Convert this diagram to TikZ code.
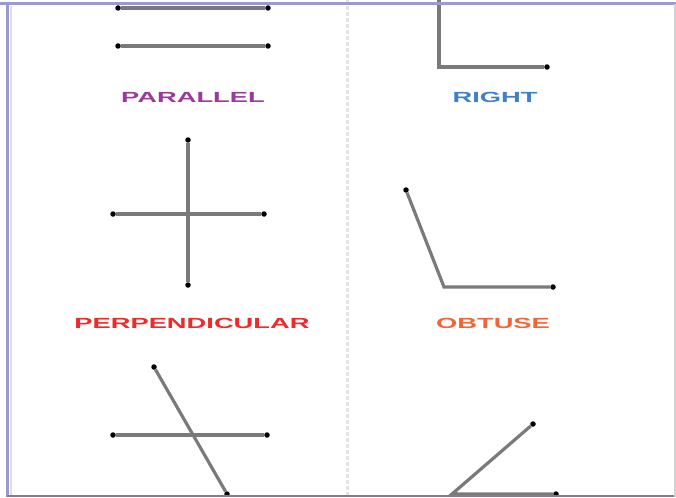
\documentclass[tikz,border=0pt]{standalone}
\usepackage{fontspec}
\setmainfont{Liberation Sans}
\usepackage{graphicx}
\usepackage{xcolor}
\usepackage{tikz}
\definecolor{frameblue}{HTML}{9A9ACF}
\definecolor{parcol}{HTML}{9B3A9E}
\definecolor{rightcol}{HTML}{3F80C8}
\definecolor{perpcol}{HTML}{EE2B2B}
\definecolor{obtcol}{HTML}{F2643A}
\definecolor{segcol}{HTML}{7A7A7A}
\newcommand\widetag[1]{\scalebox{1.95}[1.05]{#1}}

\begin{document}
\begin{tikzpicture}[x=1pt,y=-1pt,
    seg/.style={draw=segcol,line width=3.2pt},
    dot/.style={circle,fill=black,inner sep=0pt,minimum size=5.5pt},
    tag/.style={font=\bfseries\fontsize{14}{14}\selectfont,inner sep=0pt}]
  \clip (0,0) rectangle (676,497);
  \fill[white] (0,0) rectangle (676,497);

  % divider
  \draw[gray!22,line width=3pt,dash pattern=on 4pt off 2pt] (347,0) -- (347,497);

  % parallel
  \node[dot] (pa1) at (118,8) {};
  \node[dot] (pb1) at (268,8) {};
  \node[dot] (pa2) at (118,46) {};
  \node[dot] (pb2) at (268,46) {};
  \draw[seg] (pa1) -- (pb1);
  \draw[seg] (pa2) -- (pb2);
  \node[tag,text=parcol] (partag) at (193,97) {\widetag{PARALLEL}};

  % perpendicular
  \node[dot] (qt) at (188,140) {};
  \node[dot] (qb) at (188,285) {};
  \node[dot] (ql) at (113,214) {};
  \node[dot] (qr) at (264,214) {};
  \draw[seg] (ql) -- (qr);
  \draw[seg] (qt) -- (qb);
  \node[tag,text=perpcol] (perptag) at (192,323) {\widetag{PERPENDICULAR}};

  % transversal
  \node[dot] (tl) at (113,435) {};
  \node[dot] (tr) at (267,435) {};
  \node[dot] (tt) at (154,367) {};
  \node[dot] (tb) at (227,494) {};
  \draw[seg] (tl) -- (tr);
  \draw[seg] (tt) -- (tb);

  % right
  \coordinate (rtop) at (439,-2);
  \coordinate (rv) at (439,67);
  \node[dot] (rh) at (547,67) {};
  \draw[seg] (rtop) -- (rv) -- (rh);
  \node[tag,text=rightcol] (righttag) at (495,97) {\widetag{RIGHT}};

  % obtuse
  \node[dot] (oa) at (406,190) {};
  \coordinate (ov) at (444,287);
  \node[dot] (ob) at (553,287) {};
  \draw[seg] (oa) -- (ov) -- (ob);
  \node[tag,text=obtcol] (obttag) at (493,323) {\widetag{OBTUSE}};

  % acute
  \node[dot] (ca) at (533,424) {};
  \coordinate (cv) at (452,494);
  \node[dot] (cb) at (556,494) {};
  \draw[seg] (ca) -- (cv) -- (cb);

  % frame
  \draw[gray!25,line width=2.5pt] (11,6) -- (11,497);
  \draw[frameblue,line width=3pt] (7,4) -- (7,497);
  \draw[frameblue,line width=3pt] (0,4) -- (676,4);
  \draw[frameblue!80!black,line width=1.5pt] (7,496) -- (676,496);
  \draw[gray!35,line width=1.5pt] (675,4) -- (675,497);
\end{tikzpicture}
\end{document}
